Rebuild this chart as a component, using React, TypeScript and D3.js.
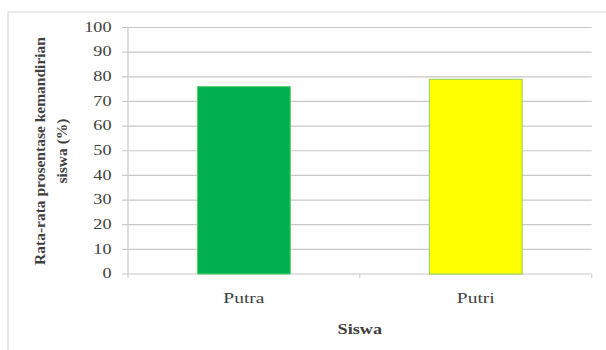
import React from "react";
import * as d3 from "d3";

const categories = ["Putra", "Putri"];
const values = [76, 79];
const barColors = ["#00B050", "#FFFF00"];
const barStrokes = ["#4fd16a", "#8fd14f"];
const yTicks = [0, 10, 20, 30, 40, 50, 60, 70, 80, 90, 100];
const yTitleLines = ["Rata-rata prosentase kemandirian", "siswa (%)"];
const xTitle = "Siswa";

const W = 606;
const H = 350;
const plot = { left: 128, right: 591.7, top: 27.5, bottom: 274 };
const SX = 1.3;

export default function App() {
  const x = d3
    .scaleBand<string>()
    .domain(categories)
    .range([plot.left, plot.right])
    .paddingInner(0.6)
    .paddingOuter(0.3);
  const step = x.step();
  const y = d3.scaleLinear().domain([0, 100]).range([plot.bottom, plot.top]);
  const font = "'Liberation Serif', 'Times New Roman', serif";
  const boundaries = [plot.left, plot.left + step, plot.right];

  return (
    <svg
      width={W}
      height={H}
      style={{ position: "absolute", left: 0, top: 0, background: "#fff" }}
      fontFamily={font}
    >
      <rect x={0} y={0} width={W} height={H} fill="#fff" />
      {/* chart frame */}
      <rect x={8} y={12} width={W + 10} height={H + 10} fill="#fff" stroke="#d6d6d6" strokeWidth={1} />
      {/* gridlines */}
      {yTicks.map((t) => (
        <line
          key={"g" + t}
          x1={plot.left - 6}
          x2={plot.right}
          y1={y(t)}
          y2={y(t)}
          stroke="#c8c8c8"
          strokeWidth={1.2}
        />
      ))}
      {/* y axis */}
      <line x1={plot.left} x2={plot.left} y1={plot.top} y2={plot.bottom} stroke="#c8c8c8" strokeWidth={1.2} />
      {/* x axis ticks */}
      {boundaries.map((b, i) => (
        <line key={"xt" + i} x1={b} x2={b} y1={plot.bottom} y2={plot.bottom + 4} stroke="#c8c8c8" strokeWidth={1} />
      ))}
      {/* bars */}
      {categories.map((c, i) => (
        <rect
          key={c}
          x={x(c)!}
          y={y(values[i])}
          width={x.bandwidth()}
          height={plot.bottom - y(values[i])}
          fill={barColors[i]}
          stroke={barStrokes[i]}
          strokeWidth={1}
        />
      ))}
      {/* y tick labels */}
      {yTicks.map((t) => (
        <text
          key={"yl" + t}
          transform={`translate(111.5,${y(t)}) scale(${SX},1)`}
          textAnchor="end"
          dominantBaseline="central"
          fontSize={14}
          fill="#404040"
        >
          {t}
        </text>
      ))}
      {/* x category labels */}
      {categories.map((c) => (
        <text
          key={"xl" + c}
          transform={`translate(${x(c)! + x.bandwidth() / 2},303) scale(${SX},1)`}
          textAnchor="middle"
          fontSize={15}
          fill="#404040"
        >
          {c}
        </text>
      ))}
      {/* x title */}
      <text
        transform={`translate(${(plot.left + plot.right) / 2},334) scale(${SX},1)`}
        textAnchor="middle"
        fontSize={14}
        fontWeight="bold"
        fill="#404040"
      >
        {xTitle}
      </text>
      {/* y title */}
      {yTitleLines.map((l, i) => (
        <text
          key={"yt" + i}
          transform={`translate(${39 + i * 22},151) rotate(-90)`}
          textAnchor="middle"
          dominantBaseline="central"
          fontSize={15.5}
          fontWeight="bold"
          fill="#404040"
        >
          {l}
        </text>
      ))}
    </svg>
  );
}
